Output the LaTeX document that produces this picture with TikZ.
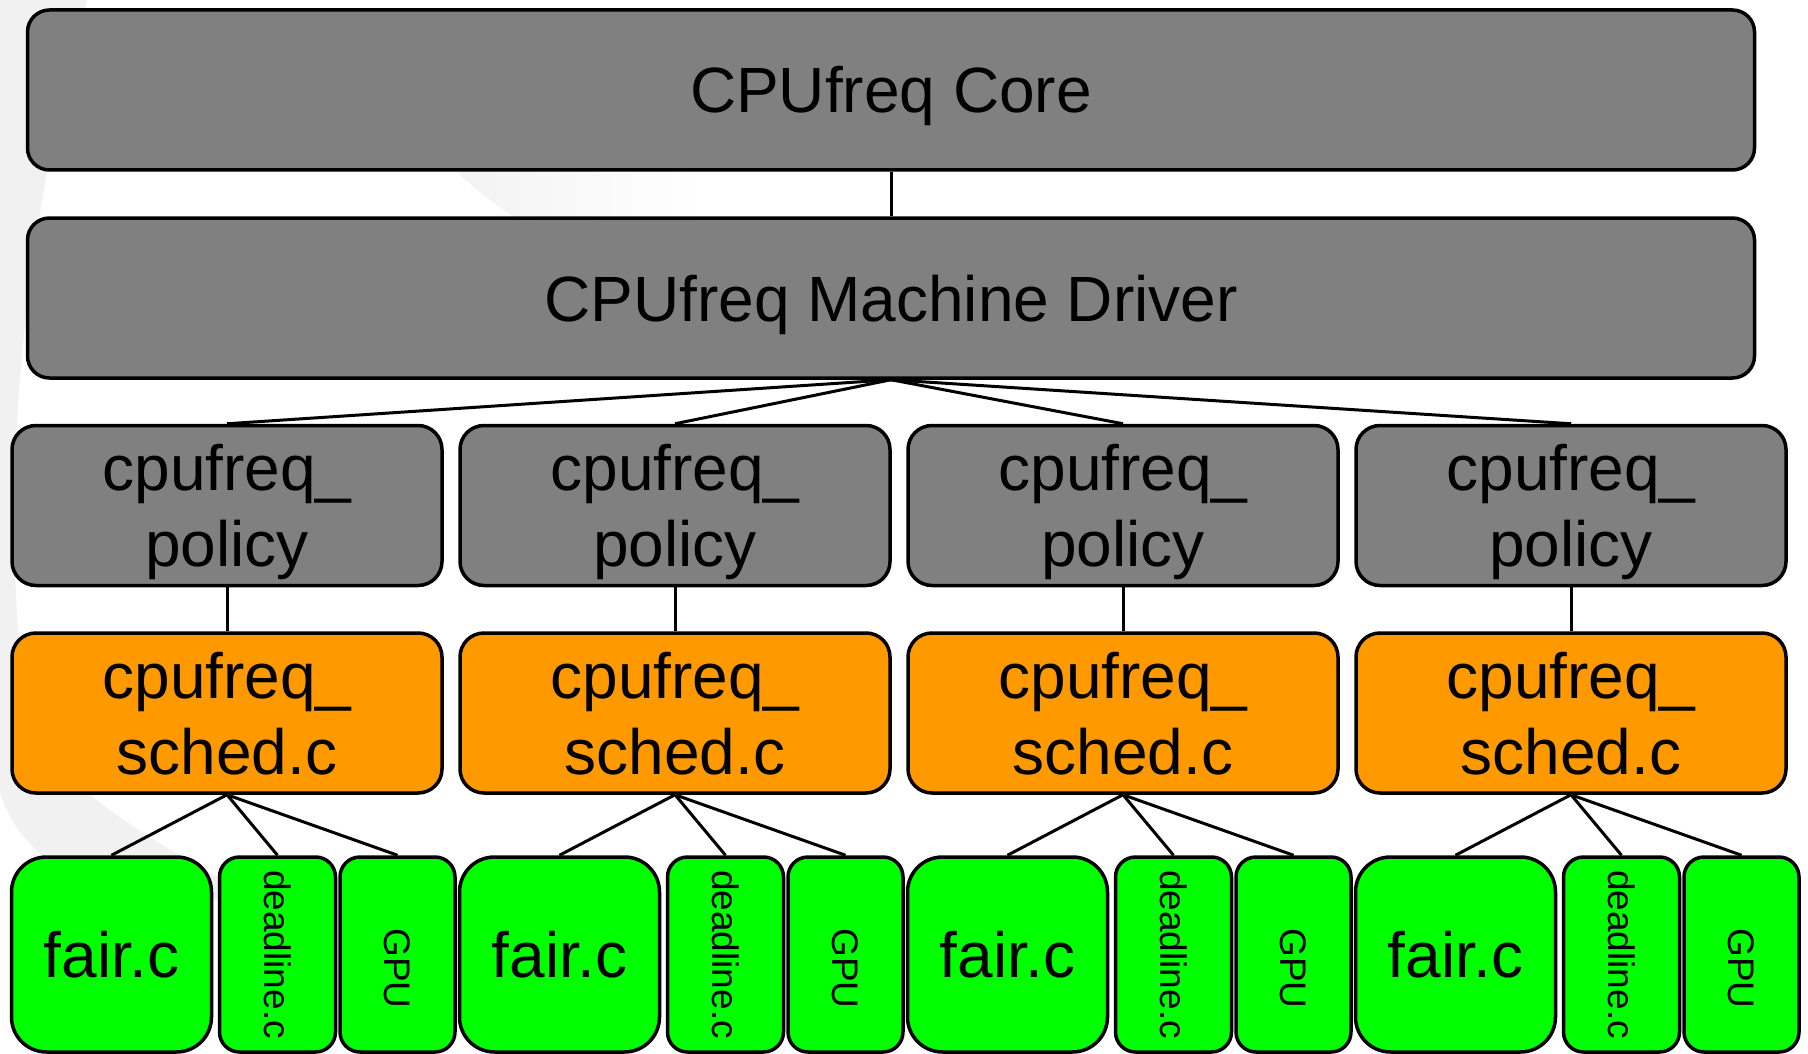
\documentclass[tikz,border=0pt]{standalone}
\usepackage{fontspec}
\setmainfont{Liberation Sans}
\usepackage{graphicx}
\definecolor{boxgray}{HTML}{808080}
\definecolor{boxorange}{HTML}{FF9900}
\definecolor{boxgreen}{HTML}{00FF00}
\definecolor{swirl}{HTML}{F1F1F1}
\newcommand{\twoline}[2]{\vbox{\baselineskip=76pt\lineskiplimit=0pt\halign{\hfil##\hfil\cr #1\cr #2\cr}}}
\newcommand{\vtext}[1]{\rotatebox{-90}{#1}}
\begin{document}
\begin{tikzpicture}[x=1pt,y=-1pt,
  box/.style={draw=black, line width=3.5pt, rectangle, inner sep=0pt, text=black},
  widebox/.style={box, fill=boxgray, rounded corners=22pt,
    minimum width=1727pt, minimum height=160pt,
    font=\fontsize{64}{76}\selectfont, text height=46pt, text depth=0pt},
  policybox/.style={box, rounded corners=24pt,
    minimum width=430pt, minimum height=160pt,
    font=\fontsize{64}{76}\selectfont, text height=122pt, text depth=0pt},
  fairbox/.style={box, fill=boxgreen, rounded corners=35pt,
    minimum width=200pt, minimum height=195pt,
    font=\fontsize{64}{76}\selectfont, text height=46pt, text depth=0pt},
  thinbox/.style={box, fill=boxgreen, rounded corners=20pt,
    minimum width=116pt, minimum height=195pt,
    font=\fontsize{37}{44}\selectfont},
  conn/.style={line width=3pt, draw=black}
]
\useasboundingbox (0,0) rectangle (1808,1054);
\fill[white] (0,0) rectangle (1808,1054);
% faint background swirl
\fill[swirl] (0,-10) .. controls (-40,300) and (-40,600) .. (-10,720)
  .. controls (-10,880) and (100,900) .. (260,900)
  .. controls (150,840) and (60,790) .. (30,720)
  .. controls (5,600) and (0,300) .. (90,-10) -- cycle;
\shade[left color=swirl, right color=white]
  (430,140) .. controls (455,175) and (490,205) .. (560,245)
  -- (700,245) -- (700,140) -- cycle;

% boxes
\node[widebox] (core) at (891,90) {CPUfreq Core};
\node[widebox] (driver) at (891,298) {CPUfreq Machine Driver};
\foreach \k in {0,1,2,3} {
  \pgfmathsetmacro{\cx}{227+448*\k}
  \pgfmathsetmacro{\fx}{111.5+448*\k}
  \pgfmathsetmacro{\dx}{277.5+448*\k}
  \pgfmathsetmacro{\gx}{397.5+448*\k}
  \node[policybox, fill=boxgray] (pol\k) at (\cx,505.5) {\twoline{cpufreq\_}{policy}};
  \node[policybox, fill=boxorange] (sch\k) at (\cx,713) {\twoline{cpufreq\_}{sched.c}};
  \node[fairbox] (fair\k) at (\fx,954.5) {fair.c};
  \node[thinbox] (dl\k) at (\dx,954.5) {\vtext{deadline.c}};
  \node[thinbox, minimum width=115pt] (gpu\k) at (\gx,954.5) {\vtext{\hspace{28pt}GPU}};
}

% connectors
\draw[conn] (core.south) -- (driver.north);
\foreach \k in {0,1,2,3} {
  \draw[conn] (driver.south) -- (pol\k.north);
  \draw[conn] (pol\k.south) -- (sch\k.north);
  \draw[conn] (sch\k.south) -- (fair\k.north);
  \draw[conn] (sch\k.south) -- (dl\k.north);
  \draw[conn] (sch\k.south) -- (gpu\k.north);
}
\end{tikzpicture}
\end{document}
